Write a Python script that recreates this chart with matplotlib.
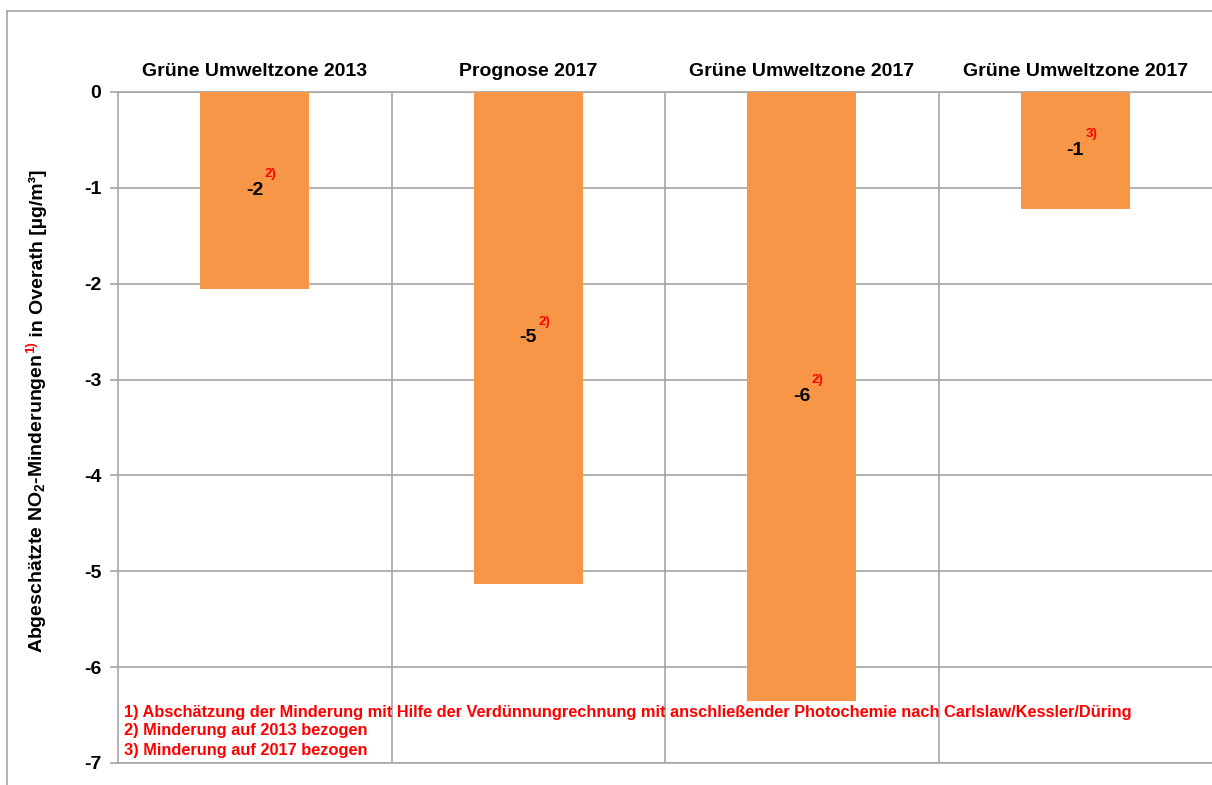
import matplotlib
matplotlib.use("Agg")
import matplotlib.pyplot as plt
from matplotlib.lines import Line2D

plt.rcParams['font.family'] = ['Liberation Sans', 'DejaVu Sans']
plt.rcParams['mathtext.fontset'] = 'custom'
plt.rcParams['mathtext.rm'] = 'Liberation Sans:bold'
plt.rcParams['mathtext.it'] = 'Liberation Sans:bold'
plt.rcParams['mathtext.bf'] = 'Liberation Sans:bold'

categories = ["Grüne Umweltzone 2013", "Prognose 2017", "Grüne Umweltzone 2017", "Grüne Umweltzone 2017"]
values = [-2.05, -5.13, -6.35, -1.22]
value_labels = ["-2", "-5", "-6", "-1"]
footnote_marks = ["2)", "2)", "2)", "3)"]
yticks = [0, -1, -2, -3, -4, -5, -6, -7]
footnotes = [
    "1) Abschätzung der Minderung mit Hilfe der Verdünnungrechnung mit anschließender Photochemie nach Carlslaw/Kessler/Düring",
    "2) Minderung auf 2013 bezogen",
    "3) Minderung auf 2017 bezogen",
]

W, H = 1212, 785
fig = plt.figure(figsize=(W / 100, H / 100), dpi=100)
ax = fig.add_axes([118 / W, 1 - 763 / H, (W - 118) / W, (763 - 92) / H])

grid_c = "#a6a6a6"
bar_c = "#F79646"

x = list(range(len(categories)))
ax.bar(x, values, width=0.4, color=bar_c, zorder=3)
ax.set_xlim(-0.5, 3.5)
ax.set_ylim(-7, 0)
ax.set_yticks(yticks)
ax.set_yticklabels([str(t) for t in yticks], fontsize=14, fontweight='bold')
ax.tick_params(axis='y', direction='out', length=6, color=grid_c, pad=6, width=1.2)
ax.yaxis.grid(True, color=grid_c, linewidth=1.2, zorder=0)
for b in [0.5, 1.5, 2.5]:
    ax.axvline(b, color=grid_c, linewidth=1.2, zorder=0)

ax.xaxis.tick_top()
ax.set_xticks(x)
ax.set_xticklabels(categories, fontsize=14, fontweight='bold')
ax.tick_params(axis='x', length=0, pad=9)

for s in ['left', 'bottom', 'top']:
    ax.spines[s].set_color(grid_c)
    ax.spines[s].set_linewidth(1.2)
ax.spines['right'].set_visible(False)

for i, (v, lab, fn) in enumerate(zip(values, value_labels, footnote_marks)):
    ax.text(i, v / 2, lab, ha='center', va='center', fontsize=14, fontweight='bold', color='black', zorder=5)
    ax.annotate(fn, xy=(i, v / 2), xytext=(10, 16), textcoords='offset pixels',
                ha='left', va='center', fontsize=9.5, fontweight='bold', color='red', zorder=5)

for k, t in enumerate(footnotes):
    fig.text(124 / W, 1 - (712 + 19 * k) / H, t, ha='left', va='center', fontsize=11.8,
             fontweight='bold', color='red')

fig.canvas.draw()
renderer = fig.canvas.get_renderer()
pieces = [
    ("Abgeschätzte NO$_2$-Minderungen", 'black', 14, 0),
    ("1)", 'red', 9.5, 7),
    (" in Overath [µg/m³]", 'black', 14, 0),
]
texts = []
heights = []
for s, c, fs, dx in pieces:
    t = fig.text(0, 0, s, rotation=90, fontsize=fs, fontweight='bold', color=c, ha='center', va='bottom')
    bb = t.get_window_extent(renderer)
    heights.append(bb.height)
    texts.append(t)
total = sum(heights)
ycenter_px = H - 411
ystart = ycenter_px - total / 2
for t, h, (s, c, fs, dx) in zip(texts, heights, pieces):
    t.set_position(((38 - dx) / W, ystart / H))
    ystart += h

fig.add_artist(Line2D([7 / W, 7 / W], [0, 1 - 11 / H], color=grid_c, linewidth=1.2, transform=fig.transFigure))
fig.add_artist(Line2D([7 / W, 1], [1 - 11 / H, 1 - 11 / H], color=grid_c, linewidth=1.2, transform=fig.transFigure))

fig.savefig("out.png", dpi=100)
